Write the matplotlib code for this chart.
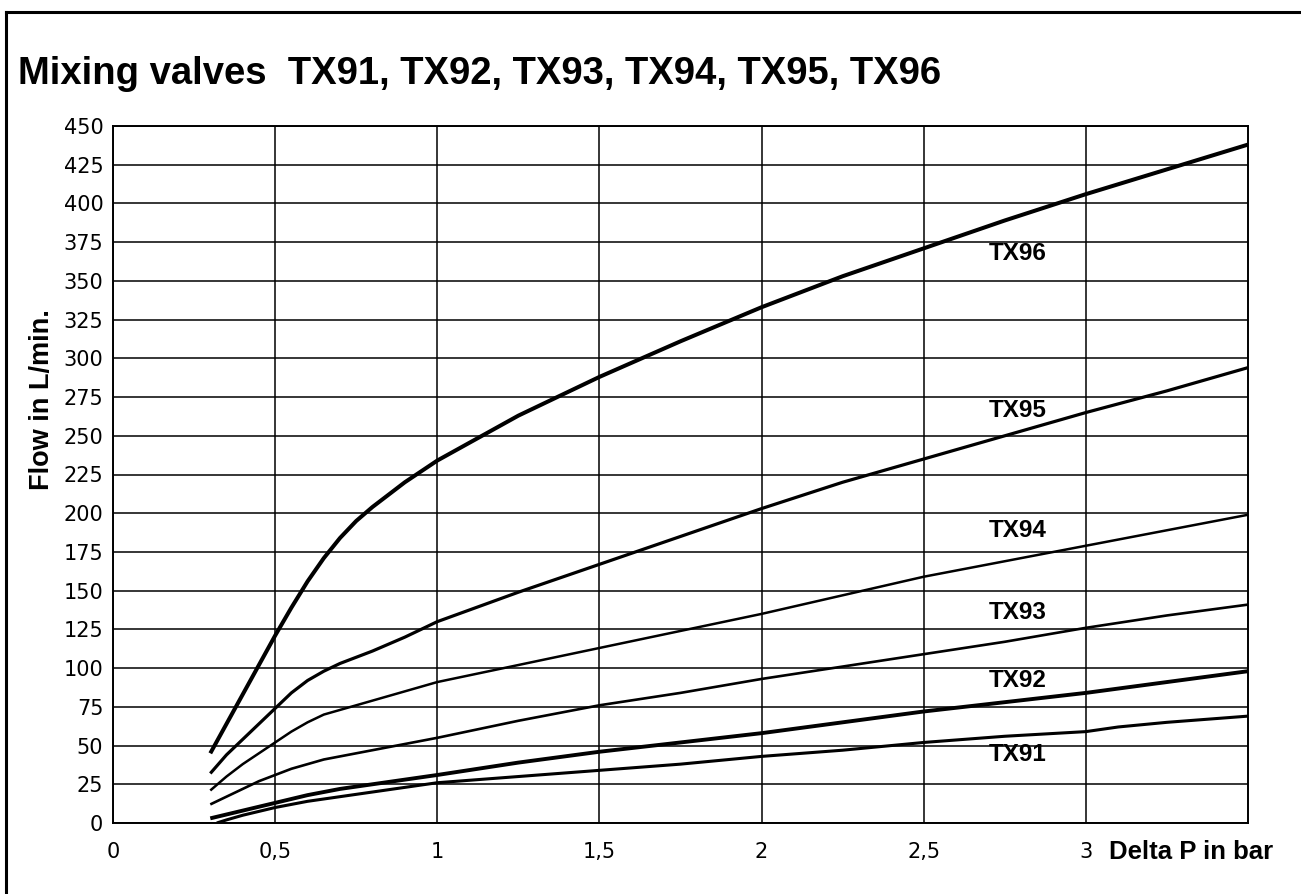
import matplotlib
matplotlib.use("Agg")
import matplotlib.pyplot as plt
from matplotlib.lines import Line2D

# -----------------------------
# Data
# -----------------------------
dp = [0.3, 0.35, 0.4, 0.45, 0.5, 0.55, 0.6, 0.65, 0.7, 0.75, 0.8, 0.9, 1.0,
      1.25, 1.5, 1.75, 2.0, 2.25, 2.5, 2.75, 3.0, 3.25, 3.5]
dp_tx91 = [0.32, 0.35, 0.4, 0.45, 0.5, 0.55, 0.6, 0.65, 0.7, 0.75, 0.8, 0.9, 1.0,
           1.25, 1.5, 1.75, 2.0, 2.25, 2.5, 2.75, 3.0, 3.1, 3.25, 3.5]

tx96 = [45, 64, 83, 102, 121, 139, 156, 171, 184, 195, 204, 220, 234,
        263, 288, 311, 333, 353, 371, 389, 406, 422, 438]
tx95 = [32, 44, 54, 64, 74, 84, 92, 98, 103, 107, 111, 120, 130,
        149, 167, 185, 203, 220, 235, 250, 265, 279, 294]
tx94 = [21, 30, 38, 45, 52, 59, 65, 70, 73, 76, 79, 85, 91,
        102, 113, 124, 135, 147, 159, 169, 179, 189, 199]
tx93 = [12, 17, 22, 27, 31, 35, 38, 41, 43, 45, 47, 51, 55,
        66, 76, 84, 93, 101, 109, 117, 126, 134, 141]
tx92 = [3, 5.5, 8, 10.5, 13, 15.5, 18, 20, 22, 23.5, 25, 28, 31,
        39, 46, 52, 58, 65, 72, 78, 84, 91, 98]
tx91 = [0, 2, 5, 7.5, 10, 12, 14, 15.5, 17, 18.5, 20, 23, 26,
        30, 34, 38, 43, 47, 52, 56, 59, 62, 65, 69]

x_ticks = [0, 0.5, 1, 1.5, 2, 2.5, 3]
x_ticklabels = ["0", "0,5", "1", "1,5", "2", "2,5", "3"]
y_ticks = list(range(0, 451, 25))

# -----------------------------
# Styling per curve: (name, x, y, linewidth, label y-position)
# -----------------------------
curves = [
    ("TX96", dp, tx96, 2.9, 368),
    ("TX95", dp, tx95, 2.3, 266),
    ("TX94", dp, tx94, 1.8, 189),
    ("TX93", dp, tx93, 1.9, 136),
    ("TX92", dp, tx92, 2.8, 92),
    ("TX91", dp_tx91, tx91, 2.2, 44),
]
label_x = 2.79

W, H = 1301, 894
fig = plt.figure(figsize=(W / 100, H / 100), dpi=100)
ax = fig.add_axes([113 / W, 1 - 823 / H, (1248 - 113) / W, (823 - 126) / H])

for name, xs, ys, lw, ly in curves:
    ax.plot(xs, ys, color="black", lw=lw, solid_capstyle="butt",
            solid_joinstyle="round", zorder=3)
    ax.text(label_x, ly, name, ha="center", va="center", fontsize=17.5,
            fontweight="bold", family="Liberation Sans", zorder=4)

ax.set_xlim(0, 3.5)
ax.set_ylim(0, 450)
ax.set_xticks(x_ticks)
ax.set_xticklabels(x_ticklabels)
ax.set_yticks(y_ticks)
ax.tick_params(axis="both", length=0, labelsize=15)
ax.tick_params(axis="x", pad=14)
ax.tick_params(axis="y", pad=7)
ax.grid(True, color="black", lw=1.1)
ax.set_axisbelow(True)
for sp in ax.spines.values():
    sp.set_linewidth(1.4)
    sp.set_color("black")

# axis titles
fig.text(1109 / W, 1 - 852 / H, "Delta P in bar", ha="left", va="center",
         fontsize=18.5, fontweight="bold", family="Liberation Sans")
fig.text(42 / W, 1 - 400 / H, "Flow in L/min.", ha="center", va="center",
         rotation=90, fontsize=19.5, fontweight="bold", family="Liberation Sans")

# title
fig.text(18 / W, 1 - 84 / H, "Mixing valves  TX91, TX92, TX93, TX94, TX95, TX96",
         ha="left", va="baseline", fontsize=27.5, fontweight="bold",
         family="Liberation Sans")

# outer frame (only top and left visible)
fig.add_artist(Line2D([6 / W, 6 / W], [0, 1 - 12 / H], color="black", lw=2.2,
                      transform=fig.transFigure))
fig.add_artist(Line2D([6 / W, 1], [1 - 12 / H, 1 - 12 / H], color="black", lw=2.2,
                      transform=fig.transFigure))

fig.savefig("out.png", dpi=100)
